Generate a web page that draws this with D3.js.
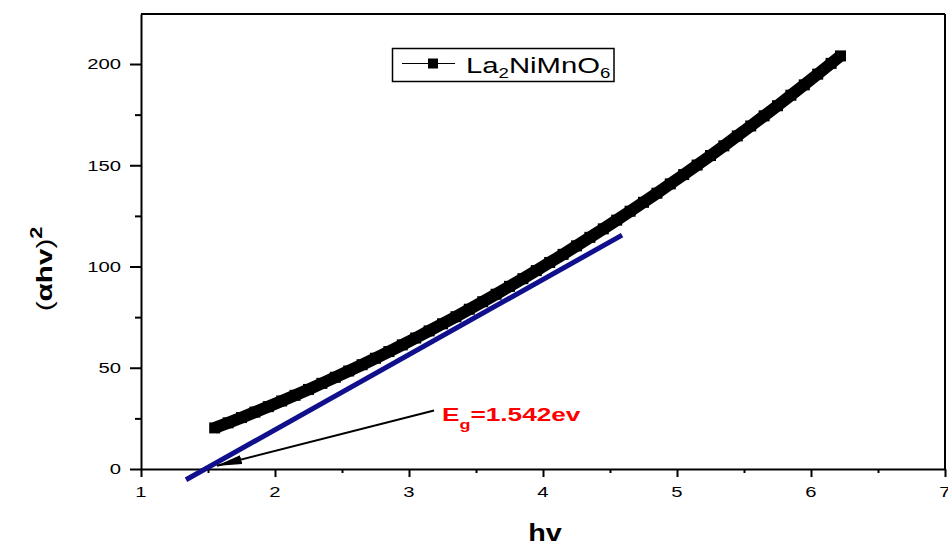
<!DOCTYPE html>
<html><head><meta charset="utf-8">
<script src="https://cdn.jsdelivr.net/npm/d3@7"></script>
<style>body{margin:0;background:#fff}svg{display:block}</style>
</head><body><svg id="c" width="948" height="542"></svg>
<script>
// ---- data ----
const hv = [1.55,1.65,1.75,1.85,1.95,2.05,2.15,2.25,2.35,2.45,2.55,2.65,2.75,2.85,2.95,3.05,3.15,3.25,3.35,3.45,3.55,3.65,3.75,3.85,3.95,4.05,4.15,4.25,4.35,4.45,4.55,4.65,4.75,4.85,4.95,5.05,5.15,5.25,5.35,5.45,5.55,5.65,5.75,5.85,5.95,6.05,6.15,6.22];
const alphaHv2 = [20.3,22.8,25.4,28.1,30.8,33.6,36.4,39.3,42.3,45.3,48.4,51.5,54.7,58.0,61.3,64.7,68.2,71.7,75.2,78.9,82.6,86.3,90.2,94.0,98.0,102.0,106.0,110.2,114.4,118.6,122.9,127.3,131.7,136.2,140.8,145.4,150.1,154.8,159.6,164.5,169.4,174.4,179.4,184.6,189.7,195.0,200.3,204.0];
const xTicks = [1,2,3,4,5,6,7];
const xMinorTicks = [1.5,2.5,3.5,4.5,5.5,6.5];
const yTicks = [0,50,100,150,200];
const yMinorTicks = [25,75,125,175];
const fitHv = [1.336,4.59];
const fitVal = [-5.3,115.5];
const arrowHv = [3.187,1.567];
const arrowVal = [28.9,1.6];
const seriesLabel = ["La","2","NiMnO","6"];
const gapLabel = ["E","g","=1.542ev"];

// ---- drawing ----
const svg = d3.select("#c");
const FONT = "'Liberation Sans', Arial, sans-serif";
const x = d3.scaleLinear().domain([1,7]).range([141,945]);
const y = d3.scaleLinear().domain([0,224.7]).range([469,14]);

svg.append("defs").append("marker")
  .attr("id","ah").attr("markerUnits","userSpaceOnUse")
  .attr("viewBox","0 -5 26 10").attr("markerWidth",26).attr("markerHeight",10)
  .attr("refX",25).attr("refY",0).attr("orient","auto")
  .append("path").attr("d","M0,-4.5L26,0L0,4.5Z").attr("fill","#000");

// frame top/right
svg.append("line").attr("x1",x(1)).attr("x2",x(7)).attr("y1",y(224.7)).attr("y2",y(224.7))
  .attr("stroke","#000").attr("stroke-width",2);
svg.append("line").attr("x1",x(7)).attr("x2",x(7)).attr("y1",y(224.7)).attr("y2",y(0))
  .attr("stroke","#000").attr("stroke-width",2);

// axes (lines and ticks)
svg.append("g").attr("transform",`translate(0,${y(0)})`)
  .call(d3.axisBottom(x).tickValues(xTicks).tickSize(8).tickSizeOuter(0).tickFormat(""));
svg.append("g").attr("transform",`translate(0,${y(0)})`)
  .call(d3.axisBottom(x).tickValues(xMinorTicks).tickSize(4).tickSizeOuter(0).tickFormat(""))
  .call(g=>g.select(".domain").remove());
svg.append("g").attr("transform",`translate(${x(1)},0)`)
  .call(d3.axisLeft(y).tickValues(yTicks).tickSize(11).tickSizeOuter(0).tickFormat(""));
svg.append("g").attr("transform",`translate(${x(1)},0)`)
  .call(d3.axisLeft(y).tickValues(yMinorTicks).tickSize(6).tickSizeOuter(0).tickFormat(""))
  .call(g=>g.select(".domain").remove());
svg.selectAll(".domain, .tick line").attr("stroke","#000").attr("stroke-width",2);

// tick labels (horizontally stretched like the reference)
const SX = 1.35;
svg.append("g").selectAll("g").data(xTicks).join("g")
  .attr("transform",d=>`translate(${x(d)},497) scale(${SX},1)`)
  .append("text").attr("text-anchor","middle").attr("font-family",FONT).attr("font-size",15)
  .attr("fill","#000").text(d=>d);
svg.append("g").selectAll("g").data(yTicks).join("g")
  .attr("transform",d=>`translate(121,${y(d)+5.4}) scale(${SX},1)`)
  .append("text").attr("text-anchor","end").attr("font-family",FONT).attr("font-size",15)
  .attr("fill","#000").text(d=>d);

// data series
const pts = hv.map((h,i)=>[h,alphaHv2[i]]);
svg.append("path").datum(pts)
  .attr("d",d3.line().x(d=>x(d[0])).y(d=>y(d[1])))
  .attr("fill","none").attr("stroke","#000").attr("stroke-width",12);
svg.append("g").selectAll("rect").data(pts).join("rect")
  .attr("x",d=>x(d[0])-5.5).attr("y",d=>y(d[1])-5.5).attr("width",11).attr("height",11).attr("fill","#000");

// linear fit
svg.append("line")
  .attr("x1",x(fitHv[0])).attr("y1",y(fitVal[0])).attr("x2",x(fitHv[1])).attr("y2",y(fitVal[1]))
  .attr("stroke","#10108c").attr("stroke-width",5);

// arrow
svg.append("line")
  .attr("x1",x(arrowHv[0])).attr("y1",y(arrowVal[0])).attr("x2",x(arrowHv[1])).attr("y2",y(arrowVal[1]))
  .attr("stroke","#000").attr("stroke-width",2).attr("marker-end","url(#ah)");

// Eg label
const eg = svg.append("g").attr("transform","translate(442,421) scale(1.38,1)")
  .append("text").attr("font-family",FONT).attr("font-weight","bold").attr("font-size",19).attr("fill","#ff0000");
eg.append("tspan").text(gapLabel[0]);
eg.append("tspan").attr("font-size",13).attr("dy",8).text(gapLabel[1]);
eg.append("tspan").attr("dy",-8).text(gapLabel[2]);

// legend
svg.append("rect").attr("x",392.5).attr("y",48.5).attr("width",221.5).attr("height",33)
  .attr("fill","#fff").attr("stroke","#000").attr("stroke-width",1.5);
svg.append("line").attr("x1",402).attr("x2",455).attr("y1",63.5).attr("y2",63.5).attr("stroke","#000").attr("stroke-width",1);
svg.append("rect").attr("x",428).attr("y",58.5).attr("width",10).attr("height",10).attr("fill","#000");
const lt = svg.append("g").attr("transform","translate(466,72.5) scale(1.33,1)")
  .append("text").attr("font-family",FONT).attr("font-size",22).attr("fill","#000");
lt.append("tspan").text(seriesLabel[0]);
lt.append("tspan").attr("font-size",14).attr("dy",5).text(seriesLabel[1]);
lt.append("tspan").attr("dy",-5).text(seriesLabel[2]);
lt.append("tspan").attr("font-size",14).attr("dy",5).text(seriesLabel[3]);

// axis titles
svg.append("g").attr("transform","translate(545,541) scale(1.2,1)")
  .append("text").attr("text-anchor","middle").attr("font-family",FONT).attr("font-weight","bold")
  .attr("font-size",24).attr("fill","#000").text("hv");
const yl = svg.append("g").attr("transform","translate(52,269) rotate(-90) scale(1.35,1)")
  .append("text").attr("text-anchor","middle").attr("font-family",FONT).attr("font-weight","bold")
  .attr("font-size",22).attr("fill","#000");
yl.append("tspan").attr("font-weight","normal").text("(");
yl.append("tspan").text("\u03B1hv");
yl.append("tspan").attr("font-weight","normal").text(")");
yl.append("tspan").attr("font-size",16).attr("dy",-10).text("2");
</script></body></html>
